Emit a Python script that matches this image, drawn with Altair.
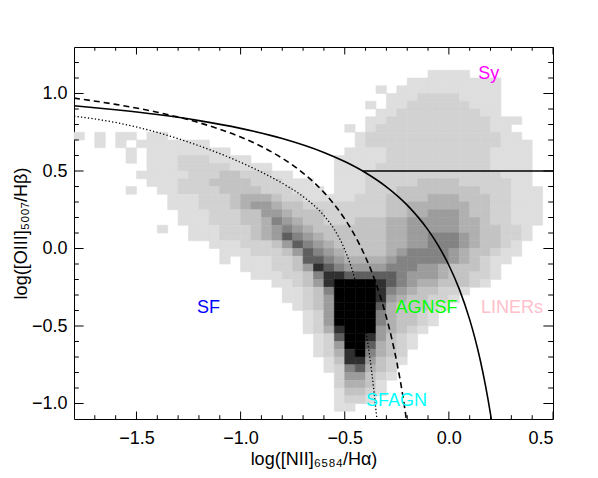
import altair as alt
import pandas as pd

# ---------------- axes ----------------
X_DOMAIN = [-1.8, 0.5]
Y_DOMAIN = [-1.1, 1.3]
X_LABELS = [-1.5, -1.0, -0.5, 0.0, 0.5]
Y_LABELS = [-1.0, -0.5, 0.0, 0.5, 1.0]
X_MAJOR = [-1.5, -1.0, -0.5, 0.0, 0.5]
X_MINOR = [-1.7, -1.6, -1.4, -1.3, -1.2, -1.1, -0.9, -0.8, -0.7, -0.6,
           -0.4, -0.3, -0.2, -0.1, 0.1, 0.2, 0.3, 0.4]
Y_MAJOR = [-1.0, -0.5, 0.0, 0.5, 1.0]
Y_MINOR = [-0.9, -0.8, -0.7, -0.6, -0.4, -0.3, -0.2, -0.1, 0.1, 0.2, 0.3,
           0.4, 0.6, 0.7, 0.8, 0.9, 1.1, 1.2]

# ---------------- 2-D density ----------------
CELL_W = 0.05
CELL_H = 0.05
GRID_LEFT = -1.8
GRID_TOP = 1.2
# one entry per row (top row first): list of (first column, gray levels 0-9)
DENSITY_ROWS = [
    [],
    [(34, "1111")],
    [(32, "111111111")],
    [(29, "10" "1111111111")],
    [(30, "111" "2222" "1111")],
    [(28, "10" "11" "222222" "111")],
    [(29, "11" "22222222" "11")],
    [(28, "11" "22222" "22222" "111")],
    [(26, "101" "22222" "22222" "2" "11")],
    [(0, "101011011"), (27, "1" "22222" "22222" "222" "11")],
    [(2, "1010" "1111111"), (27, "1" "22222" "22222" "222" "11" "1")],
    [(5, "10" "11111111"), (26, "1111" "22222" "22222" "1111")],
    [(5, "10" "111" "222" "1111"), (25, "1" "1111" "22222" "22222" "1111")],
    [(7, "111" "22222" "1111"), (25, "1111" "22222" "22222" "2" "1111")],
    [(6, "1" "1111" "222" "33" "222" "11"), (25, "111" "222" "22222" "22" "222" "111")],
    [(7, "111" "222" "3333" "222" "111"), (25, "111" "222" "2233" "3322" "222" "11")],
    [(5, "1" "00" "11" "2222" "3333" "222" "111"), (25, "111" "222" "33" "33333" "3" "222" "111")],
    [(9, "111" "222" "3" "444" "3" "22" "11111" "222" "33" "334443" "33" "22" "111")],
    [(9, "111" "222" "3" "4" "55" "4" "332" "2222" "222" "33" "444444" "33" "22" "111")],
    [(10, "111" "222" "33" "55" "4" "333" "222" "222" "33" "44" "555" "4" "33" "22" "111")],
    [(10, "111" "222" "33" "4" "6" "5" "4" "33" "222" "333" "44" "55555" "44" "3" "22" "111")],
    [(8, "1"), (11, "111" "222" "3" "4" "5" "6" "5" "4" "3333333" "44" "55555" "44" "33" "22" "1")],
    [(11, "111" "222" "3" "4" "5" "7" "6" "5" "4" "333333" "44" "55" "666" "5" "4" "33" "22" "1")],
    [(13, "111" "222" "3" "5" "7" "6" "5" "4" "33333" "44" "55" "666" "5" "4" "33" "2" "1")],
    [(14, "111" "222" "3" "5" "7" "6" "5" "4" "3333" "4" "5" "6666" "5" "4" "33" "2" "11")],
    [(14, "1"), (16, "111" "22" "3" "7" "7" "6" "5" "4444" "5" "66666" "5" "4" "3" "2" "11")],
    [(16, "111" "22" "3" "5" "8" "7" "6" "555" "5" "666" "55" "4" "3" "33" "2" "1")],
    [(17, "111" "22" "3" "6" "8" "8" "7" "777" "7" "6" "555" "4" "33" "22" "1")],
    [(19, "11" "2" "3" "5" "8" "9999" "8" "7" "6" "5" "44" "3" "33" "2" "1")],
    [(20, "11" "2" "3" "6" "9999" "8" "6" "5" "4" "33" "22" "1")],
    [(20, "11" "2" "3" "5" "9999" "8" "5" "4" "33" "22" "1")],
    [(21, "1" "2" "3" "5" "9999" "7" "4" "333" "2" "1")],
    [(22, "1" "2" "5" "9999" "6" "4" "33" "2" "1")],
    [(22, "1" "2" "5" "9999" "6" "4" "33" "2" "1")],
    [(22, "1" "2" "4" "8" "999" "5" "4" "3" "2" "1")],
    [(23, "1" "2" "7" "99" "8" "5" "3" "2" "1")],
    [(23, "1" "2" "5" "99" "7" "4" "3" "2" "1")],
    [(23, "1" "2" "4" "8" "9" "6" "4" "3" "2")],
    [(24, "1" "3" "88" "5" "3" "2" "1")],
    [(24, "1" "2" "6" "7" "4" "3" "2")],
    [(25, "255321")],
    [(25, "24431")],
    [(25, "13321")],
    [(25, "1221")],
    [(25, "11")],
    [],
]
GRAY_LEVELS = [1, 2, 3, 4, 5, 6, 7, 8, 9]
GRAYS = ["#dedede", "#d2d2d2", "#c3c3c3", "#b0b0b0", "#9c9c9c",
         "#838383", "#5e5e5e", "#303030", "#000000"]

# ---------------- demarcation curves (sampled) ----------------
KEWLEY_X = [-1.8, -1.6, -1.4, -1.2, -1.0, -0.8, -0.6, -0.5, -0.4, -0.3, -0.2,
            -0.1, -0.05, 0.0, 0.05, 0.1, 0.125, 0.15, 0.175, 0.2, 0.204]
KEWLEY_Y = [0.921, 0.895, 0.864, 0.825, 0.775, 0.710, 0.620, 0.561, 0.489,
            0.398, 0.280, 0.120, 0.017, -0.108, -0.262, -0.459, -0.578,
            -0.716, -0.878, -1.069, -1.103]
KAUFF_X = [-1.8, -1.6, -1.4, -1.2, -1.0, -0.9, -0.8, -0.75, -0.7, -0.65, -0.6,
           -0.55, -0.5, -0.45, -0.4, -0.375, -0.35, -0.325, -0.3, -0.275,
           -0.25, -0.225, -0.2]
KAUFF_Y = [0.970, 0.930, 0.879, 0.812, 0.719, 0.658, 0.582, 0.538, 0.487,
           0.429, 0.362, 0.283, 0.191, 0.080, -0.056, -0.135, -0.225, -0.327,
           -0.443, -0.577, -0.733, -0.918, -1.140]
STAS_X = [-1.8, -1.6, -1.4, -1.2, -1.0, -0.9, -0.8, -0.7, -0.6, -0.55, -0.5,
          -0.45, -0.42, -0.4, -0.38, -0.36, -0.345]
STAS_Y = [0.854, 0.813, 0.749, 0.663, 0.556, 0.493, 0.421, 0.335, 0.213,
          0.123, -0.007, -0.205, -0.376, -0.521, -0.698, -0.916, -1.111]
SEY_X = [-0.414, 0.5]
SEY_Y = [0.5, 0.5]

# ---------------- region labels ----------------
LABEL_TEXT = ["Sy", "SF", "AGNSF", "LINERs", "SFAGN"]
LABEL_X = [0.192, -1.154, -0.108, 0.303, -0.252]
LABEL_Y = [1.123, -0.384, -0.384, -0.384, -0.984]
LABEL_COLOR = ["#ff00ff", "#0000ff", "#00ff00", "#ffc0cb", "#00ffff"]

FONT = "Liberation Sans"
W, H = 479, 372

# ---------------- build tables ----------------
cells = []
for k, segs in enumerate(DENSITY_ROWS):
    y_hi = GRID_TOP - k * CELL_H
    for start, levels in segs:
        assert start + len(levels) <= 46
        for j, ch in enumerate(levels):
            lv = int(ch)
            if lv == 0:
                continue
            x_lo = GRID_LEFT + (start + j) * CELL_W
            cells.append({"x0": round(x_lo, 4), "x1": round(x_lo + CELL_W, 4),
                          "y0": round(y_hi - CELL_H, 4), "y1": round(y_hi, 4),
                          "level": lv})
cells_df = pd.DataFrame(cells)

xs = alt.Scale(domain=X_DOMAIN, nice=False, zero=False)
ys = alt.Scale(domain=Y_DOMAIN, nice=False, zero=False)
XAX = alt.Axis(values=X_LABELS, format=".1f", ticks=False, domain=False,
               grid=False, labelFontSize=18, labelPadding=10,
               labelColor="black", title="log([NII]₆₅₈₄/Hα)",
               titleFontSize=18, titleFontWeight="normal", titleColor="black",
               titlePadding=3, labelFont=FONT, titleFont=FONT)
YAX = alt.Axis(values=Y_LABELS, format=".1f", ticks=False, domain=False,
               grid=False, labelFontSize=18, labelPadding=7,
               labelColor="black", title="log([OIII]₅₀₀₇/Hβ)",
               titleFontSize=18, titleFontWeight="normal", titleColor="black",
               titlePadding=1, labelFont=FONT, titleFont=FONT)

rects = alt.Chart(cells_df).mark_rect(strokeWidth=0.6).encode(
    x=alt.X("x0:Q", scale=xs, axis=XAX), x2="x1:Q",
    y=alt.Y("y0:Q", scale=ys, axis=YAX), y2="y1:Q",
    color=alt.Color("level:O", scale=alt.Scale(domain=GRAY_LEVELS, range=GRAYS), legend=None),
    stroke=alt.Stroke("level:O", scale=alt.Scale(domain=GRAY_LEVELS, range=GRAYS), legend=None),
)


def curve(xv, yv, **kw):
    df = pd.DataFrame({"x": xv, "y": yv})
    return alt.Chart(df).mark_line(color="black", clip=True, **kw).encode(
        x=alt.X("x:Q", scale=xs, axis=XAX), y=alt.Y("y:Q", scale=ys, axis=YAX))


kewley = curve(KEWLEY_X, KEWLEY_Y, strokeWidth=1.6, interpolate="monotone")
kauff = curve(KAUFF_X, KAUFF_Y, strokeWidth=1.6, strokeDash=[6, 4], interpolate="monotone")
stas = curve(STAS_X, STAS_Y, strokeWidth=1.3, strokeDash=[1.3, 2.2], interpolate="monotone")
sey = curve(SEY_X, SEY_Y, strokeWidth=1.6)


def xticks(values, y_from, y_to):
    return alt.Chart(pd.DataFrame({"v": values})).mark_rule(color="black", strokeWidth=1).encode(
        x=alt.X("v:Q", scale=xs, axis=XAX), y=alt.value(y_from), y2=alt.value(y_to))


def yticks(values, x_from, x_to):
    return alt.Chart(pd.DataFrame({"v": values})).mark_rule(color="black", strokeWidth=1).encode(
        y=alt.Y("v:Q", scale=ys, axis=YAX), x=alt.value(x_from), x2=alt.value(x_to))


ticks = [
    xticks(X_MAJOR, H, H - 7.5), xticks(X_MINOR, H, H - 3.8),
    xticks(X_MAJOR, 0, 7.5), xticks(X_MINOR, 0, 3.8),
    yticks(Y_MAJOR, 0, 9.6), yticks(Y_MINOR, 0, 4.8),
    yticks(Y_MAJOR, W, W - 9.6), yticks(Y_MINOR, W, W - 4.8),
]

labels_df = pd.DataFrame({"text": LABEL_TEXT, "x": LABEL_X, "y": LABEL_Y, "color": LABEL_COLOR})
labels = alt.Chart(labels_df).mark_text(font=FONT, fontSize=18, align="center", baseline="middle").encode(
    x=alt.X("x:Q", scale=xs, axis=XAX), y=alt.Y("y:Q", scale=ys, axis=YAX),
    text="text:N", color=alt.Color("color:N", scale=None))

chart = alt.layer(rects, stas, kauff, kewley, sey, *ticks, labels).properties(
    width=W, height=H,
    padding={"left": 66, "top": 39, "right": 20, "bottom": 52},
    autosize=alt.AutoSizeParams(type="none"),
    background="white",
).configure_view(stroke="black", strokeWidth=1)

chart.save("out.html", embed_options={"renderer": "svg", "actions": False})
